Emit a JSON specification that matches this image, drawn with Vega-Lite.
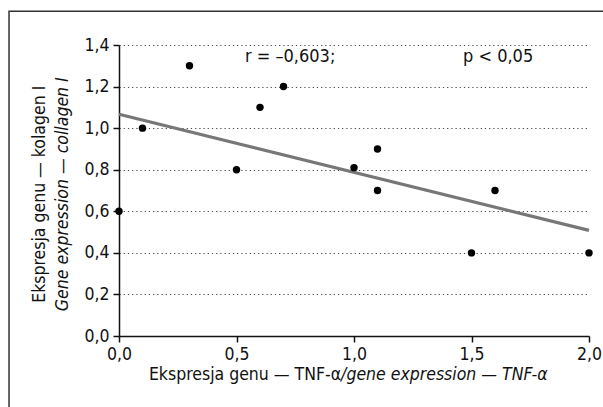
{
  "$schema": "https://vega.github.io/schema/vega-lite/v6.json",
  "width": 470,
  "height": 291,
  "autosize": "none",
  "padding": {"left": 119, "top": 45, "right": 14, "bottom": 71},
  "background": "white",
  "config": {
    "view": {"stroke": null},
    "font": "DejaVu Sans Condensed, Liberation Sans, Roboto",
    "text": {"font": "DejaVu Sans Condensed, Liberation Sans, Roboto"},
    "axis": {
      "labelFont": "DejaVu Sans Condensed, Liberation Sans, Roboto",
      "labelFontSize": 17.5,
      "labelColor": "#111",
      "labelFlush": false,
      "domainColor": "#111",
      "domainWidth": 1.5,
      "tickColor": "#111",
      "tickWidth": 1.5,
      "tickSize": 6
    }
  },
  "datasets": {
    "points": [
      {"tnf": 0.0, "col": 0.6},
      {"tnf": 0.1, "col": 1.0},
      {"tnf": 0.3, "col": 1.3},
      {"tnf": 0.5, "col": 0.8},
      {"tnf": 0.6, "col": 1.1},
      {"tnf": 0.7, "col": 1.2},
      {"tnf": 1.0, "col": 0.81},
      {"tnf": 1.1, "col": 0.9},
      {"tnf": 1.1, "col": 0.7},
      {"tnf": 1.5, "col": 0.4},
      {"tnf": 1.6, "col": 0.7},
      {"tnf": 2.0, "col": 0.4}
    ],
    "fit": [
      {"tnf": 0.0, "col": 1.067},
      {"tnf": 2.0, "col": 0.508}
    ],
    "one": [{"k": 1}]
  },
  "layer": [
    {
      "data": {"name": "one"},
      "mark": {"type": "rect", "fill": null, "stroke": "#333", "strokeWidth": 1.5, "clip": false},
      "encoding": {
        "x": {"datum": -0.468, "type": "quantitative"},
        "x2": {"datum": 2.2},
        "y": {"datum": 1.562, "type": "quantitative"},
        "y2": {"datum": -0.5}
      }
    },
    {
      "data": {"name": "fit"},
      "mark": {"type": "line", "color": "#777", "strokeWidth": 3.2},
      "encoding": {
        "x": {
          "field": "tnf", "type": "quantitative",
          "scale": {"domain": [0, 2], "nice": false, "zero": false},
          "axis": {
            "values": [0, 0.5, 1, 1.5, 2],
            "labelExpr": "replace(format(datum.value, '.1f'), '.', ',')",
            "labelPadding": 3,
            "grid": false,
            "title": null
          }
        },
        "y": {
          "field": "col", "type": "quantitative",
          "scale": {"domain": [0, 1.4], "nice": false, "zero": false},
          "axis": {
            "values": [0, 0.2, 0.4, 0.6, 0.8, 1.0, 1.2, 1.4],
            "labelExpr": "replace(format(datum.value, '.1f'), '.', ',')",
            "labelPadding": 4,
            "grid": true,
            "gridColor": "#444",
            "gridDash": [1.2, 3],
            "gridWidth": 1.2,
            "title": null
          }
        }
      }
    },
    {
      "data": {"name": "points"},
      "mark": {"type": "circle", "color": "#000", "opacity": 1, "size": 55},
      "encoding": {
        "x": {"field": "tnf", "type": "quantitative"},
        "y": {"field": "col", "type": "quantitative"}
      }
    },
    {
      "data": {"name": "one"},
      "mark": {"type": "text", "align": "left", "baseline": "middle", "fontSize": 18, "color": "#111"},
      "encoding": {
        "x": {"datum": 0.536, "type": "quantitative"},
        "y": {"datum": 1.342, "type": "quantitative"},
        "text": {"value": "r = –0,603;"}
      }
    },
    {
      "data": {"name": "one"},
      "mark": {"type": "text", "align": "left", "baseline": "middle", "fontSize": 18, "color": "#111"},
      "encoding": {
        "x": {"datum": 1.464, "type": "quantitative"},
        "y": {"datum": 1.342, "type": "quantitative"},
        "text": {"value": "p < 0,05"}
      }
    },
    {
      "data": {"name": "one"},
      "mark": {"type": "text", "align": "center", "baseline": "middle", "angle": 270, "fontSize": 17.5, "color": "#111"},
      "encoding": {
        "x": {"datum": -0.336, "type": "quantitative"},
        "y": {"datum": 0.682, "type": "quantitative"},
        "text": {"value": "Ekspresja genu — kolagen I"}
      }
    },
    {
      "data": {"name": "one"},
      "mark": {"type": "text", "align": "center", "baseline": "middle", "angle": 270, "fontSize": 17.5, "fontStyle": "italic", "color": "#111"},
      "encoding": {
        "x": {"datum": -0.238, "type": "quantitative"},
        "y": {"datum": 0.682, "type": "quantitative"},
        "text": {"value": "Gene expression — collagen I"}
      }
    },
    {
      "data": {"name": "one"},
      "mark": {"type": "text", "align": "right", "baseline": "middle", "fontSize": 17.5, "color": "#111"},
      "encoding": {
        "x": {"datum": 0.945, "type": "quantitative"},
        "y": {"datum": -0.187, "type": "quantitative"},
        "text": {"value": "Ekspresja genu — TNF-α"}
      }
    },
    {
      "data": {"name": "one"},
      "mark": {"type": "text", "align": "left", "baseline": "middle", "fontSize": 17.5, "fontStyle": "italic", "color": "#111"},
      "encoding": {
        "x": {"datum": 0.945, "type": "quantitative"},
        "y": {"datum": -0.187, "type": "quantitative"},
        "text": {"value": "/gene expression — TNF-α"}
      }
    }
  ]
}
